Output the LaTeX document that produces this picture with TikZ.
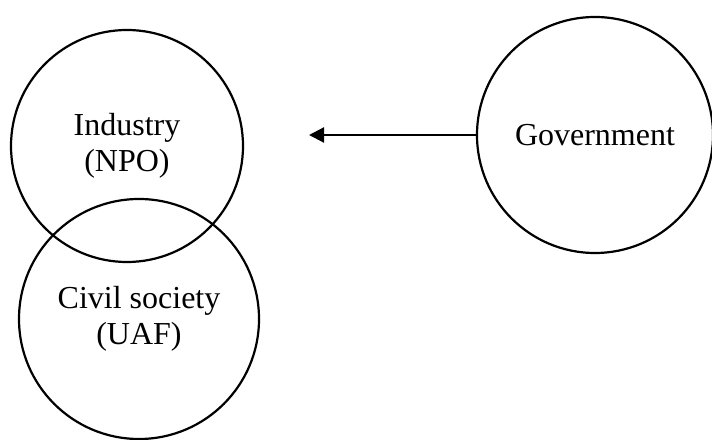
\documentclass[tikz,border=0pt]{standalone}
\usepackage{fontspec}
\setmainfont{Liberation Serif}
\usetikzlibrary{arrows.meta}

\begin{document}
\begin{tikzpicture}[x=0.5pt,y=0.5pt,
    sector/.style={draw, circle, line width=1.1pt, inner sep=0pt, align=center,
        font=\fontsize{16}{18}\selectfont}]
    \useasboundingbox (0,0) rectangle (712,439);
    % Industry circle
    \node[sector, minimum size=116pt] (industry) at (127,293) {Industry\\(NPO)};
    % Civil society circle
    \node[sector, minimum size=120pt] (civil) at (139,120) {Civil society\\(UAF)};
    % Government circle
    \node[sector, minimum size=118pt] (gov) at (595,304) {Government};
    % Arrow from government
    \coordinate (tip) at (309,304);
    \draw[line width=1.1pt, -{Triangle[length=7.5pt,width=7.5pt]}] (gov) -- (tip);
\end{tikzpicture}
\end{document}
